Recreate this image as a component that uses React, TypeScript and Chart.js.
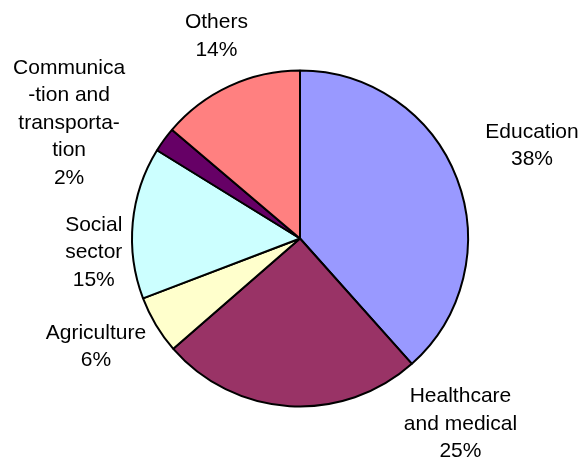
import React, { useEffect, useRef } from "react";
import { Chart, registerables } from "chart.js";

Chart.register(...registerables);

const categories: string[][] = [
  ["Education"],
  ["Healthcare", "and medical"],
  ["Agriculture"],
  ["Social", "sector"],
  ["Communica", "-tion and", "transporta-", "tion"],
  ["Others"],
];
const shares: number[] = [38.4, 25.2, 5.6, 14.6, 2.4, 13.8];
const sliceColors: string[] = ["#9999FF", "#993366", "#FFFFCC", "#CCFFFF", "#660066", "#FF8080"];

// label block offsets relative to the arc's outer mid-point (layout only)
const labelNudge: [number, number][] = [
  [75, -33],
  [171, 18],
  [-60, 22],
  [-39, 30],
  [-95, -17],
  [-13, -50],
];

const FONT = "21px 'Liberation Sans', Arial, sans-serif";
const LINE_H = 27.5;

const labelPlugin = {
  id: "outerLabels",
  afterDatasetsDraw(chart: any) {
    const ctx = chart.ctx;
    const meta = chart.getDatasetMeta(0);
    const data: number[] = chart.data.datasets[0].data;
    const total = data.reduce((a, b) => a + b, 0);
    ctx.save();
    ctx.font = FONT;
    ctx.fillStyle = "#000";
    ctx.textAlign = "center";
    ctx.textBaseline = "middle";
    meta.data.forEach((arc: any, i: number) => {
      const p = arc.getProps(["x", "y", "startAngle", "endAngle", "outerRadius"], true);
      const mid = (p.startAngle + p.endAngle) / 2;
      const ax = p.x + Math.cos(mid) * p.outerRadius;
      const ay = p.y + Math.sin(mid) * p.outerRadius;
      const cx = ax + labelNudge[i][0];
      const cy = ay + labelNudge[i][1];
      const lines = [...categories[i], Math.round((data[i] / total) * 100) + "%"];
      lines.forEach((t, k) => {
        ctx.fillText(t, cx, cy + (k - (lines.length - 1) / 2) * LINE_H);
      });
    });
    ctx.restore();
  },
};

export default function App() {
  const ref = useRef<HTMLCanvasElement>(null);
  useEffect(() => {
    if (!ref.current) return;
    const chart = new Chart(ref.current, {
      type: "pie",
      data: {
        labels: categories.map((c) => c.join(" ")),
        datasets: [
          {
            data: shares,
            backgroundColor: sliceColors,
            borderColor: "#000",
            borderWidth: 2,
          },
        ],
      },
      options: {
        responsive: false,
        animation: false,
        radius: 168,
        layout: { padding: { left: 40, right: 27, top: 20, bottom: 3 } },
        plugins: { legend: { display: false }, tooltip: { enabled: false } },
      } as any,
      plugins: [labelPlugin],
    });
    return () => chart.destroy();
  }, []);
  return (
    <div style={{ position: "absolute", left: 0, top: 0, width: 587, height: 460, background: "#fff" }}>
      <canvas ref={ref} width={587} height={460} style={{ width: 587, height: 460 }} />
    </div>
  );
}
